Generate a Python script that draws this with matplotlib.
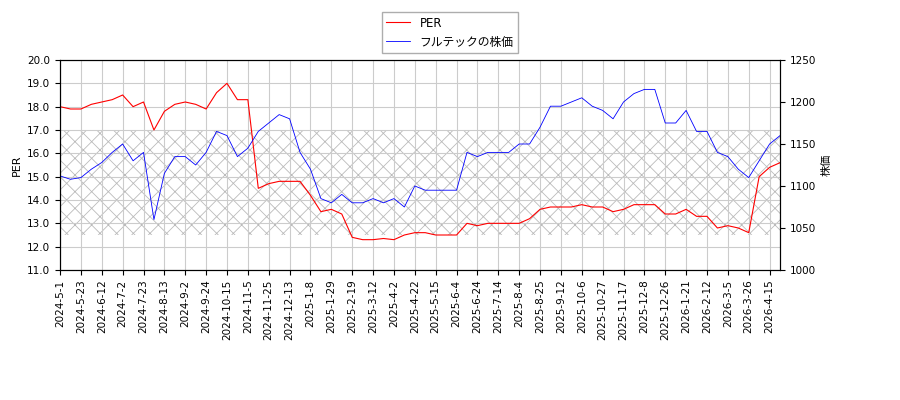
import numpy as np
import matplotlib.pyplot as plt

plt.rcParams['font.family'] = ['DejaVu Sans', 'Noto Sans CJK JP']

date_labels = ['2024-5-1', '2024-5-23', '2024-6-12', '2024-7-2', '2024-7-23', '2024-8-13', '2024-9-2',
               '2024-9-24', '2024-10-15', '2024-11-5', '2024-11-25', '2024-12-13', '2025-1-8', '2025-1-29',
               '2025-2-19', '2025-3-12', '2025-4-2', '2025-4-22', '2025-5-15', '2025-6-4', '2025-6-24',
               '2025-7-14', '2025-8-4', '2025-8-25', '2025-9-12', '2025-10-6', '2025-10-27', '2025-11-17',
               '2025-12-8', '2025-12-26', '2026-1-21', '2026-2-12', '2026-3-5', '2026-3-26', '2026-4-15']

per = [18.0, 17.9, 17.9, 18.1, 18.2, 18.3, 18.5, 18.0, 18.2, 17.0, 17.8, 18.1, 18.2, 18.1,
       17.9, 18.6, 19.0, 18.3, 18.3, 14.5, 14.7, 14.8, 14.8, 14.8, 14.2, 13.5, 13.6, 13.4,
       12.4, 12.3, 12.3, 12.35, 12.3, 12.5, 12.6, 12.6, 12.5, 12.5, 12.5, 13.0, 12.9, 13.0,
       13.0, 13.0, 13.0, 13.2, 13.6, 13.7, 13.7, 13.7, 13.8, 13.7, 13.7, 13.5, 13.6, 13.8,
       13.8, 13.8, 13.4, 13.4, 13.6, 13.3, 13.3, 12.8, 12.9, 12.8, 12.6, 15.0, 15.4, 15.6]

price = [1112, 1108, 1110, 1120, 1128, 1140, 1150, 1130, 1140, 1060, 1115, 1135, 1135, 1125,
         1140, 1165, 1160, 1135, 1145, 1165, 1175, 1185, 1180, 1140, 1120, 1085, 1080, 1090,
         1080, 1080, 1085, 1080, 1085, 1075, 1100, 1095, 1095, 1095, 1095, 1140, 1135, 1140,
         1140, 1140, 1150, 1150, 1170, 1195, 1195, 1200, 1205, 1195, 1190, 1180, 1200, 1210,
         1215, 1215, 1175, 1175, 1190, 1165, 1165, 1140, 1135, 1120, 1110, 1130, 1150, 1160]

x = np.arange(len(per)) * 7

plt.rcParams['hatch.color'] = '#bbbbbb'
plt.rcParams['hatch.linewidth'] = 0.6

fig = plt.figure(figsize=(9, 4), dpi=100)
ax = fig.add_axes([0.0667, 0.325, 0.8, 0.525])
ax.fill_between([0, 483], 12.5, 17.0, facecolor='none', edgecolor='#bbbbbb', hatch='xx', linewidth=0)
l1, = ax.plot(x, per, color='red', linewidth=0.8, label='PER')
ax.set_ylim(11, 20)
ax.set_yticks(np.arange(11, 20.5, 1.0))
ax.yaxis.set_major_formatter(plt.FormatStrFormatter('%.1f'))
ax.set_xlim(0, 483)
ax.set_xticks(np.arange(len(date_labels)) * 14)
ax.set_xticklabels(date_labels, rotation=90, fontsize=7.5)
ax.tick_params(axis='y', labelsize=7.5)
ax.set_ylabel('PER', fontsize=8)
ax.grid(color='#cccccc', linewidth=0.8)

ax2 = ax.twinx()
l2, = ax2.plot(x, price, color='blue', linewidth=0.6, label='フルテックの株価')
ax2.set_ylim(1000, 1250)
ax2.tick_params(axis='y', labelsize=7.5)
ax2.set_ylabel('株価', fontsize=8)

fig.legend(handles=[l1, l2], loc='upper center', bbox_to_anchor=(0.5, 0.985), fontsize=8.5,
           fancybox=False, edgecolor='#999999')
fig.savefig('out.png')
